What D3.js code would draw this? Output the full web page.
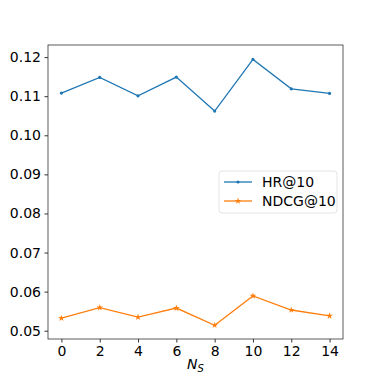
<!DOCTYPE html>
<html>
<head>
<meta charset="utf-8">
<script src="https://cdn.jsdelivr.net/npm/d3@7"></script>
<style>
  body { margin: 0; background: #fff; }
  text { font-family: "DejaVu Sans", sans-serif; }
</style>
</head>
<body>
<div id="chart"></div>
<script>
const nsValues = [0, 2, 4, 6, 8, 10, 12, 14];
const hrValues = [0.1108, 0.1148, 0.1101, 0.1149, 0.1062, 0.1194, 0.1119, 0.1107];
const ndcgValues = [0.0532, 0.0559, 0.0535, 0.0558, 0.0514, 0.0589, 0.0553, 0.0538];
const xTicks = [0, 2, 4, 6, 8, 10, 12, 14];
const yTicks = [0.05, 0.06, 0.07, 0.08, 0.09, 0.10, 0.11, 0.12];
const seriesNames = ["HR@10", "NDCG@10"];

const fullW = 382, fullH = 381;
const margin = { top: 45, right: 39, bottom: 42, left: 48 };
const width = fullW - margin.left - margin.right;
const height = fullH - margin.top - margin.bottom;

const svg = d3.select("#chart").append("svg")
  .attr("width", fullW).attr("height", fullH);
const g = svg.append("g").attr("transform", `translate(${margin.left},${margin.top})`);

const x = d3.scaleLinear().domain([-0.7, 14.7]).range([0, width]);
const y = d3.scaleLinear().domain([0.04788, 0.1231]).range([height, 0]);

// axes
g.append("g")
  .attr("transform", `translate(0,${height})`)
  .call(d3.axisBottom(x).tickValues(xTicks).tickFormat(d3.format("d")).tickSize(3.5).tickPadding(3.5))
  .call(a => a.select(".domain").remove())
  .call(a => a.selectAll("line").attr("stroke", "#000").attr("stroke-width", 0.8))
  .call(a => a.selectAll("text").attr("fill", "#000").style("font-size", "14px").style("font-family", "DejaVu Sans"));

g.append("g")
  .call(d3.axisLeft(y).tickValues(yTicks).tickFormat(d3.format(".2f")).tickSize(3.5).tickPadding(3.5))
  .call(a => a.select(".domain").remove())
  .call(a => a.selectAll("line").attr("stroke", "#000").attr("stroke-width", 0.8))
  .call(a => a.selectAll("text").attr("fill", "#000").style("font-size", "14px").style("font-family", "DejaVu Sans"));

g.append("rect")
  .attr("width", width).attr("height", height)
  .attr("fill", "none").attr("stroke", "#333").attr("stroke-width", 0.8);

// x label
const xl = svg.append("text")
  .attr("x", margin.left + width / 2)
  .attr("y", 369)
  .attr("text-anchor", "middle")
  .style("font-size", "14px")
  .style("font-style", "italic");
xl.append("tspan").text("N");
xl.append("tspan").attr("dy", 3).style("font-size", "10px").text("S");

const colors = ["#1f77b4", "#ff7f0e"];
const series = [hrValues, ndcgValues];
const line = d3.line().x((d, i) => x(nsValues[i])).y(d => y(d));

const star = d3.symbol().type(d3.symbolStar).size(14);

series.forEach((vals, si) => {
  g.append("path").datum(vals)
    .attr("fill", "none").attr("stroke", colors[si]).attr("stroke-width", 1.3)
    .attr("d", line);
  if (si === 0) {
    g.selectAll(".dot" + si).data(vals).enter().append("circle")
      .attr("cx", (d, i) => x(nsValues[i])).attr("cy", d => y(d))
      .attr("r", 1.6).attr("fill", colors[si]);
  } else {
    g.selectAll(".dot" + si).data(vals).enter().append("path")
      .attr("transform", (d, i) => `translate(${x(nsValues[i])},${y(d)})`)
      .attr("d", star).attr("fill", colors[si]);
  }
});

// legend
const leg = svg.append("g").attr("transform", "translate(219,171)");
leg.append("rect")
  .attr("width", 118).attr("height", 42).attr("rx", 3)
  .attr("fill", "#fff").attr("fill-opacity", 0.8)
  .attr("stroke", "#ddd").attr("stroke-width", 0.8);
seriesNames.forEach((name, i) => {
  const yy = 11 + i * 19;
  leg.append("line").attr("x1", 5).attr("x2", 33).attr("y1", yy).attr("y2", yy)
    .attr("stroke", colors[i]).attr("stroke-width", 1.3);
  if (i === 0) {
    leg.append("circle").attr("cx", 19).attr("cy", yy).attr("r", 1.6).attr("fill", colors[i]);
  } else {
    leg.append("path").attr("transform", `translate(19,${yy})`).attr("d", star).attr("fill", colors[i]);
  }
  leg.append("text").attr("x", 43).attr("y", yy + 5)
    .style("font-size", "14px").attr("fill", "#000").text(name);
});
</script>
</body>
</html>
